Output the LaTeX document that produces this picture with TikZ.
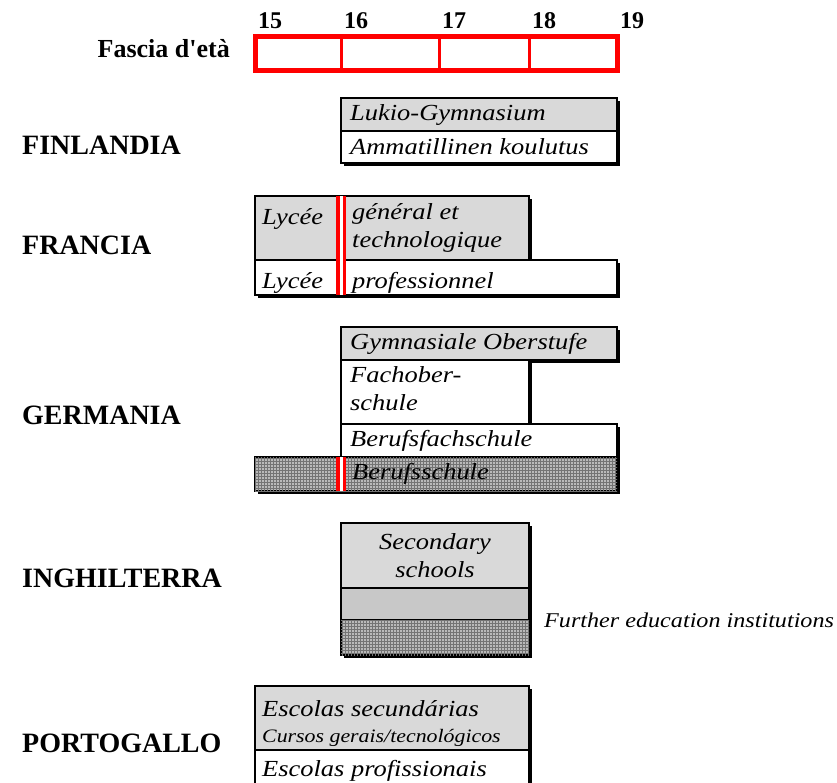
\documentclass[tikz,border=0pt]{standalone}
\usepackage{fontspec}
\setmainfont{Liberation Serif}
\newfontfamily\boxfont[FakeStretch=1.15]{Liberation Serif Italic}
\usetikzlibrary{positioning,shadows,patterns}

\definecolor{agered}{RGB}{255,0,0}
\definecolor{lightgray}{RGB}{217,217,217}
\definecolor{midgray}{RGB}{200,200,200}
\definecolor{hatchgray}{RGB}{185,185,185}

\tikzset{
  country/.style={font=\fontsize{28}{30}\selectfont\bfseries, anchor=west, inner sep=0pt},
  year/.style={font=\fontsize{24}{26}\selectfont\bfseries, anchor=base, inner sep=0pt},
  agecell/.style={draw=agered, line width=3pt, anchor=north west, inner sep=0pt, outer sep=0pt, minimum height=34pt},
  box/.style={draw=black, line width=1.2pt, anchor=north west, inner sep=0pt, outer sep=0pt,
    general shadow={fill=black, shadow xshift=2.5pt, shadow yshift=-2.5pt}},
  graybox/.style={box, fill=lightgray},
  whitebox/.style={box, fill=white},
  hatchbox/.style={box, fill=hatchgray, postaction={pattern=grid, pattern color=black!55}},
  txt/.style={font=\boxfont\fontsize{23}{28}\selectfont, inner sep=0pt, align=left},
  smalltxt/.style={font=\boxfont\fontsize{19}{22}\selectfont, inner sep=0pt},
  redbar/.style={draw=agered, line width=3.5pt, double=white, double distance=3pt}
}

\begin{document}
\begin{tikzpicture}[x=1pt, y=-1pt]
\clip (0,0) rectangle (837,782);

% eta
\node[font=\fontsize{26}{28}\selectfont\bfseries, anchor=east, inner sep=0pt] (fascia) at (230,49) {Fascia d\textquotesingle età};
\node[agecell, minimum width=86pt] (a15) at (255,36) {};
\node[agecell, minimum width=98pt] (a16) at (a15.north east) {};
\node[agecell, minimum width=90pt] (a17) at (a16.north east) {};
\node[agecell, minimum width=88pt] (a18) at (a17.north east) {};
\draw[draw=agered, line width=5pt] (a15.north west) rectangle (a18.south east);
\foreach \yr/\xx in {15/255,16/341,17/439,18/529,19/617}
  \node[year] (y\yr) at (\xx+15,28) {\yr};

% Finlandia
\node[country] (fin) at (22,145) {FINLANDIA};
\node[graybox, minimum width=276pt, minimum height=33pt] (finA) at (341,98) {};
\node[whitebox, minimum width=276pt, minimum height=32pt] (finB) at (finA.south west) {};
\node[txt, anchor=west] (finAt) at ([xshift=9pt]finA.west) {Lukio-Gymnasium};
\node[txt, anchor=west] (finBt) at ([xshift=9pt]finB.west) {Ammatillinen koulutus};

% Francia
\node[country] (fra) at (22,245) {FRANCIA};
\node[graybox, minimum width=274pt, minimum height=64pt] (fraA) at (255,196) {};
\node[whitebox, minimum width=362pt, minimum height=35pt] (fraB) at (fraA.south west) {};
\draw[redbar] ([xshift=86pt]fraA.north west) -- ([xshift=86pt]fraB.south west);
\node[txt, anchor=base west] (fraAt1) at (262,224) {Lycée};
\node[txt, anchor=north west] (fraAt2) at (352,203) {général et\\technologique};
\node[txt, anchor=base west] (fraBt1) at (262,288) {Lycée};
\node[txt, anchor=base west] (fraBt2) at (352,288) {professionnel};

% Germania
\node[country] (ger) at (22,415) {GERMANIA};
\node[graybox, minimum width=276pt, minimum height=33pt] (gerA) at (341,327) {};
\node[whitebox, minimum width=188pt, minimum height=64pt] (gerB) at (gerA.south west) {};
\node[whitebox, minimum width=276pt, minimum height=33pt] (gerC) at (gerB.south west) {};
\node[hatchbox, minimum width=362pt, minimum height=34pt] (gerD) at ([xshift=-86pt]gerC.south west) {};
\draw[redbar] ([xshift=86pt]gerD.north west) -- ([xshift=86pt]gerD.south west);
\node[txt, anchor=west] (gerAt) at ([xshift=9pt]gerA.west) {Gymnasiale Oberstufe};
\node[txt, anchor=north west] (gerBt) at (350,366) {Fachober-\\schule};
\node[txt, anchor=west] (gerCt) at ([xshift=9pt]gerC.west) {Berufsfachschule};
\node[txt, anchor=west] (gerDt) at ([xshift=97pt]gerD.west) {Berufsschule};

% Inghilterra
\node[country] (eng) at (22,578) {INGHILTERRA};
\node[graybox, minimum width=188pt, minimum height=65pt] (engA) at (341,523) {};
\node[box, fill=midgray, minimum width=188pt, minimum height=32pt] (engB) at (engA.south west) {};
\node[hatchbox, minimum width=188pt, minimum height=35pt] (engC) at (engB.south west) {};
\node[txt, align=center] (engAt) at (engA.center) {Secondary\\schools};
\node[txt, font=\boxfont\fontsize{21}{24}\selectfont, anchor=west] (engCt) at ([xshift=15pt]engC.north east) {Further education institutions};

% Portogallo
\node[country] (por) at (22,743) {PORTOGALLO};
\node[graybox, minimum width=274pt, minimum height=64pt] (porA) at (255,686) {};
\node[whitebox, minimum width=274pt, minimum height=50pt] (porB) at (porA.south west) {};
\node[txt, anchor=base west] (porAt1) at (262,716) {Escolas secundárias};
\node[smalltxt, anchor=base west] (porAt2) at (262,742) {Cursos gerais/tecnológicos};
\node[txt, anchor=base west] (porBt) at (262,776) {Escolas profissionais};

\end{tikzpicture}
\end{document}
